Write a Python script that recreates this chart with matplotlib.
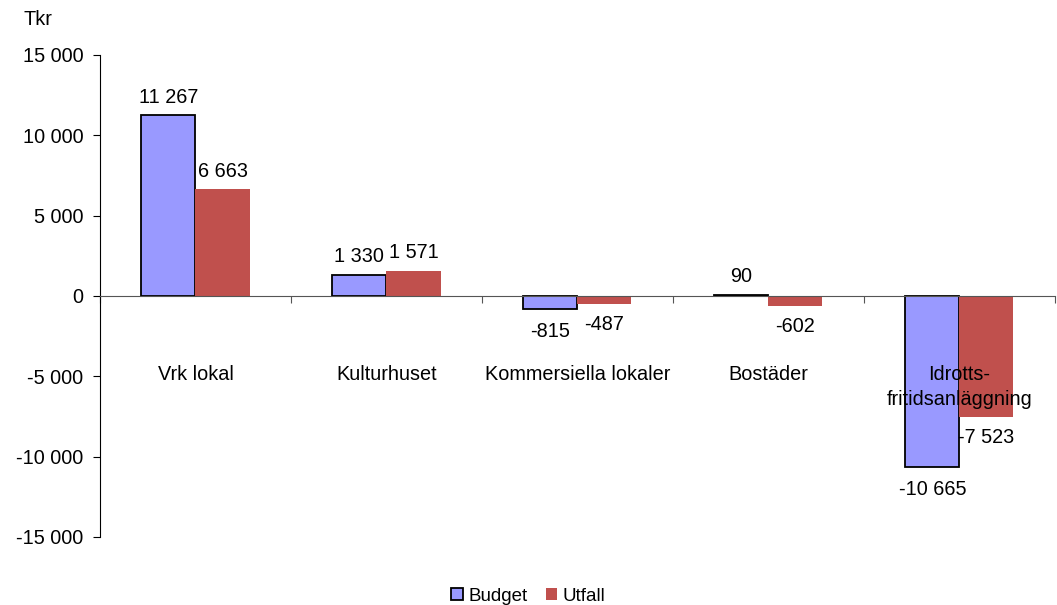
import matplotlib.pyplot as plt
import numpy as np

plt.rcParams['font.family'] = ['Liberation Sans', 'DejaVu Sans']

categories = ["Vrk lokal", "Kulturhuset", "Kommersiella lokaler", "Bostäder", "Idrotts-\nfritidsanläggning"]
budget = [11267, 1330, -815, 90, -10665]
utfall = [6663, 1571, -487, -602, -7523]


def fmt(v):
    return "{:,}".format(v).replace(",", " ")


fs = 14.3
fig = plt.figure(figsize=(10.57, 6.05), dpi=100)
ax = fig.add_axes([0.0946, 0.1124, 0.9034, 0.7967])

x = np.arange(len(categories))
w = 0.283
b1 = ax.bar(x - w / 2, budget, w, color='#9999FF', edgecolor='black', linewidth=1.3, label='Budget')
b2 = ax.bar(x + w / 2, utfall, w, color='#C0504D', linewidth=0, label='Utfall')

for xi, v in zip(x - w / 2, budget):
    ax.annotate(fmt(v), (xi, v), xytext=(0, 6 if v >= 0 else -9), textcoords='offset points',
                ha='center', va='bottom' if v >= 0 else 'top', fontsize=fs)
for xi, v in zip(x + w / 2, utfall):
    ax.annotate(fmt(v), (xi, v), xytext=(0, 6 if v >= 0 else -8), textcoords='offset points',
                ha='center', va='bottom' if v >= 0 else 'top', fontsize=fs)

for xi, c in zip(x, categories):
    ax.text(xi, -4300, c, ha='center', va='top', fontsize=fs, linespacing=1.4)

ax.set_xlim(-0.5, len(categories) - 0.5)
ax.set_ylim(-15000, 15000)
ax.set_yticks(np.arange(-15000, 15001, 5000))
ax.set_yticklabels([fmt(t) for t in range(-15000, 15001, 5000)], fontsize=fs)
ax.set_xticks(np.arange(-0.5, len(categories), 1.0))
ax.set_xticklabels([])
ax.tick_params(axis='x', direction='out', length=5, color='#555555')
ax.tick_params(axis='y', direction='out', length=5, pad=7)

ax.spines['top'].set_visible(False)
ax.spines['right'].set_visible(False)
ax.spines['bottom'].set_position(('data', 0))
ax.spines['bottom'].set_color('#555555')

fig.text(0.036, 0.968, "Tkr", fontsize=fs, va='center', ha='center')
fig.legend(handles=[b1, b2], loc='center', bbox_to_anchor=(0.5, 0.014), ncol=2, frameon=False,
           fontsize=13.5, handlelength=0.6, handleheight=0.6, handletextpad=0.3, columnspacing=1.0,
           borderpad=0.1)

fig.savefig("out.png", dpi=100)
